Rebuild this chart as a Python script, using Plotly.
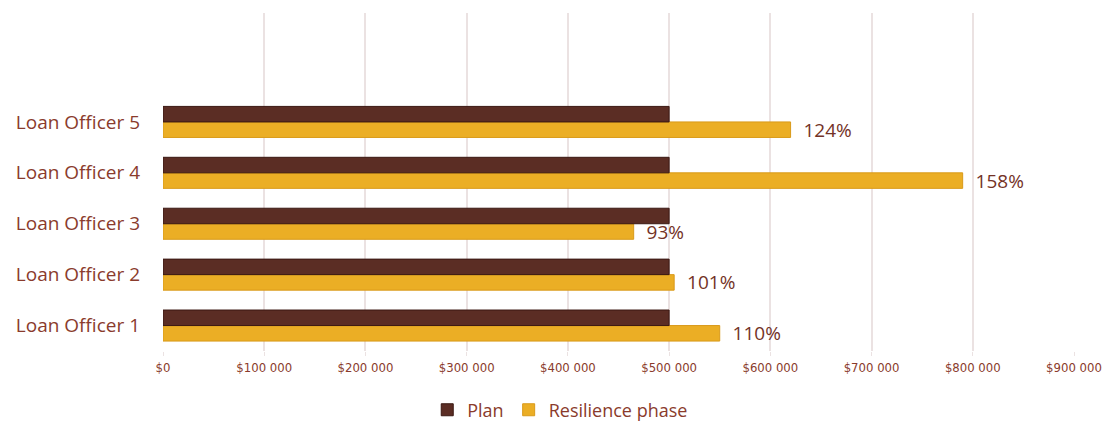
import plotly.graph_objects as go

categories = ["Loan Officer 1", "Loan Officer 2", "Loan Officer 3", "Loan Officer 4", "Loan Officer 5"]
plan = [500000, 500000, 500000, 500000, 500000]
resilience = [550000, 505000, 465000, 790000, 620000]
pct_labels = ["110%", "101%", "93%", "158%", "124%"]
tick_vals = [0, 100000, 200000, 300000, 400000, 500000, 600000, 700000, 800000, 900000]
tick_text = ["$0", "$100 000", "$200 000", "$300 000", "$400 000", "$500 000",
             "$600 000", "$700 000", "$800 000", "$900 000"]

W, H = 1104, 421
L, R, T, B = 163, 30, 13, 70

TEXT = "#8a3b2c"
DARK = "#5b2d24"
YEL = "#ebae25"

fig = go.Figure()
fig.add_trace(go.Bar(
    y=categories, x=resilience, orientation="h", name="Resilience phase",
    marker=dict(color=YEL, line=dict(color="#d99a1a", width=1)),
    text=["  " + t for t in pct_labels], textposition="outside", cliponaxis=False,
    constraintext="none",
    textfont=dict(family="Open Sans", size=19, color="#733226"),
))
fig.add_trace(go.Bar(
    y=categories, x=plan, orientation="h", name="Plan",
    marker=dict(color=DARK, line=dict(color="#3a1812", width=1)),
))

fig.update_layout(
    width=W, height=H,
    margin=dict(l=L, r=R, t=T, b=B, autoexpand=False),
    paper_bgcolor="white", plot_bgcolor="white",
    barmode="group", bargap=0.39, bargroupgap=0,
    showlegend=True,
    legend=dict(orientation="h", traceorder="reversed",
                yref="container", xref="container",
                x=0.387, xanchor="left", y=0.026, yanchor="middle",
                font=dict(family="Open Sans", size=18, color=TEXT),
                itemwidth=30, tracegroupgap=0),
    font=dict(family="Open Sans", color=TEXT),
)
fig.update_xaxes(
    range=[0, 900000], tickvals=tick_vals, ticktext=tick_text,
    showgrid=True, gridcolor="#ebe2e2", gridwidth=1.5,
    zeroline=False, showline=False,
    ticks="outside", ticklen=4, tickcolor="#ebe2e2",
    tickfont=dict(family="DejaVu Sans Condensed", size=13, color=TEXT),
)
fig.update_yaxes(
    type="category", categoryorder="array", categoryarray=categories,
    range=[-0.5, 6.14], showgrid=False, zeroline=False, showline=False,
    ticks="", ticklabelstandoff=22,
    tickfont=dict(family="Open Sans", size=19, color=TEXT),
)

fig.write_html("out.html")
